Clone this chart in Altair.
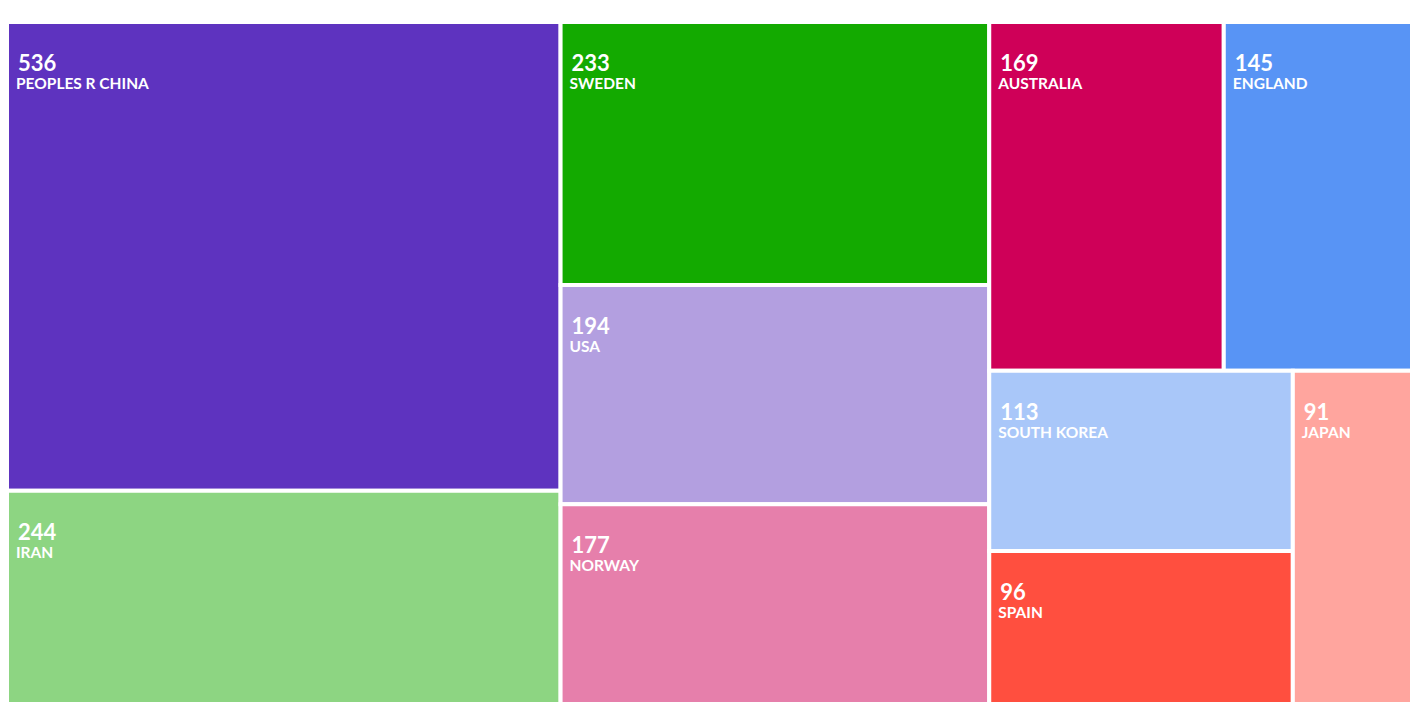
import math
import altair as alt
import pandas as pd

countries = ["PEOPLES R CHINA", "IRAN", "SWEDEN", "USA", "NORWAY", "AUSTRALIA",
             "ENGLAND", "SOUTH KOREA", "SPAIN", "JAPAN"]
counts = [536, 244, 233, 194, 177, 169, 145, 113, 96, 91]
colors = ["#5E33BF", "#8DD582", "#13AA00", "#B39FE0", "#E67FAB", "#CF0058",
          "#5894F5", "#A9C7F9", "#FF4F3F", "#FFA59E"]

# treemap layout extent (wider than the visible view: right edge is clipped)
LW, LH = 1418, 682
VIEW_W, VIEW_H = 1402, 682


def squarify(values, x0, y0, x1, y1, ratio=(1 + math.sqrt(5)) / 2):
    """d3/Vega squarified treemap layout."""
    out = [None] * len(values)
    n = len(values)
    i0 = i1 = 0
    value = float(sum(values))
    while i0 < n:
        dx, dy = x1 - x0, y1 - y0
        sum_v = values[i1]
        i1 += 1
        min_v = max_v = sum_v
        alpha = max(dy / dx, dx / dy) / (value * ratio)
        beta = sum_v * sum_v * alpha
        min_ratio = max(max_v / beta, beta / min_v)
        while i1 < n:
            nv = values[i1]
            sum_v += nv
            min_v = min(min_v, nv)
            max_v = max(max_v, nv)
            beta = sum_v * sum_v * alpha
            new_ratio = max(max_v / beta, beta / min_v)
            if new_ratio > min_ratio:
                sum_v -= nv
                break
            min_ratio = new_ratio
            i1 += 1
        idx = list(range(i0, i1))
        if dx < dy:  # dice: row across the top
            ny = y0 + dy * sum_v / value
            cx = x0
            for i in idx:
                w = dx * values[i] / sum_v
                out[i] = (cx, y0, cx + w, ny)
                cx += w
            y0 = ny
        else:  # slice: column at the left
            nx = x0 + dx * sum_v / value
            cy = y0
            for i in idx:
                h = dy * values[i] / sum_v
                out[i] = (x0, cy, nx, cy + h)
                cy += h
            x0 = nx
        value -= sum_v
        i0 = i1
    return out


rects = squarify(counts, 0, 0, LW, LH)
df = pd.DataFrame({
    "country": countries,
    "count": counts,
    "x0": [r[0] for r in rects],
    "y0": [r[1] for r in rects],
    "x1": [r[2] for r in rects],
    "y1": [r[3] for r in rects],
})

xs = alt.Scale(domain=[1, 1 + VIEW_W], nice=False, zero=False)
ys = alt.Scale(domain=[0, LH], nice=False, zero=False, reverse=True)
color = alt.Color("country:N", scale=alt.Scale(domain=countries, range=colors), legend=None)

base = alt.Chart(df)

cells = base.mark_rect(stroke="white", strokeWidth=4, clip=True).encode(
    x=alt.X("x0:Q", scale=xs, axis=None),
    x2="x1:Q",
    y=alt.Y("y0:Q", scale=ys, axis=None),
    y2="y1:Q",
    color=color,
)

num = base.mark_text(
    align="left", baseline="alphabetic", dx=11, dy=49,
    font="Source Sans Pro, Lato", fontWeight="bold", fontSize=22, color="white",
).encode(
    x=alt.X("x0:Q", scale=xs, axis=None),
    y=alt.Y("y0:Q", scale=ys, axis=None),
    text="count:Q",
)

lab = base.mark_text(
    align="left", baseline="alphabetic", dx=9, dy=67,
    font="Source Sans Pro, Lato", fontWeight="bold", fontSize=15.5, color="white",
).encode(
    x=alt.X("x0:Q", scale=xs, axis=None),
    y=alt.Y("y0:Q", scale=ys, axis=None),
    text="country:N",
)

chart = alt.layer(cells, num, lab).properties(
    width=VIEW_W, height=VIEW_H,
    padding={"left": 0, "top": 14, "right": 0, "bottom": 0},
    autosize=alt.AutoSizeParams(type="none"),
).configure_view(stroke=None)

chart.save("out.html", embed_options={"renderer": "svg", "actions": False})
